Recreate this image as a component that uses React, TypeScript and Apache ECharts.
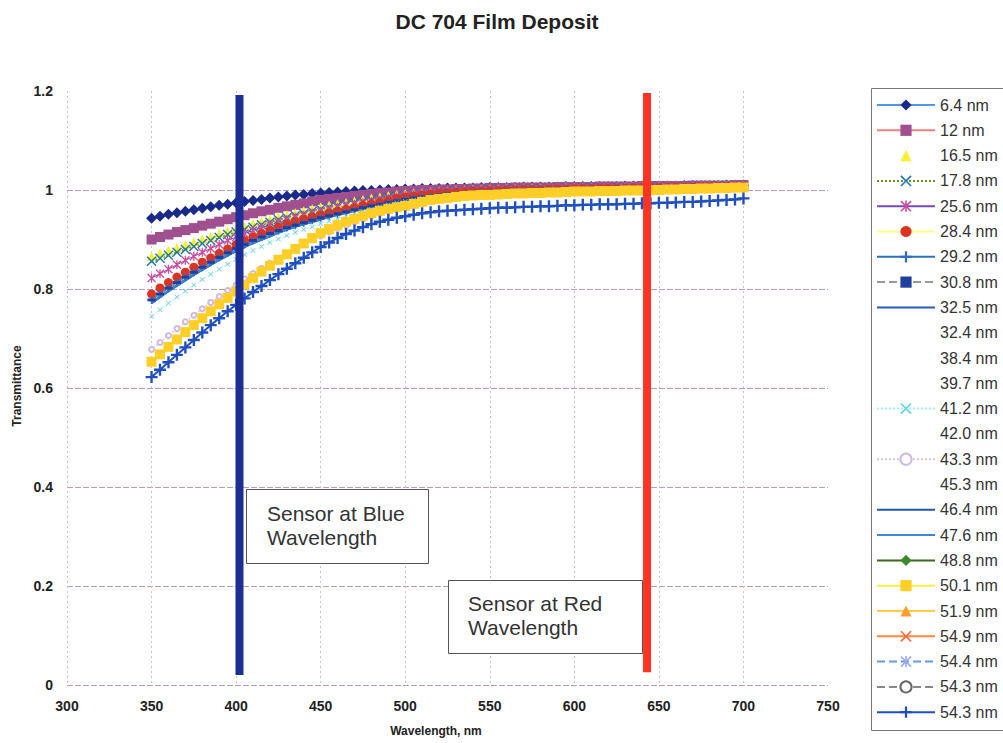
import React, { useEffect, useRef } from "react";
import * as echarts from "echarts";

// Wavelength samples (nm)
const wavelengths = [
  350, 355, 360, 365, 370, 375, 380, 385, 390, 395,
  400, 405, 410, 415, 420, 425, 430, 435, 440, 445,
  450, 455, 460, 465, 470, 475, 480, 485, 490, 495,
  500, 505, 510, 515, 520, 525, 530, 535, 540, 545,
  550, 555, 560, 565, 570, 575, 580, 585, 590, 595,
  600, 605, 610, 615, 620, 625, 630, 635, 640, 645,
  650, 655, 660, 665, 670, 675, 680, 685, 690, 695,
  700,
];

const t6_4 = [
  0.943, 0.947, 0.951, 0.954, 0.957, 0.960, 0.963, 0.966, 0.969, 0.971,
  0.974, 0.977, 0.979, 0.981, 0.984, 0.986, 0.988, 0.990, 0.991, 0.993,
  0.994, 0.995, 0.996, 0.997, 0.998, 0.999, 0.999, 1.000, 1.001, 1.001,
  1.002, 1.002, 1.003, 1.003, 1.003, 1.004, 1.004, 1.004, 1.004, 1.005,
  1.005, 1.005, 1.005, 1.005, 1.006, 1.006, 1.006, 1.006, 1.006, 1.007,
  1.007, 1.007, 1.007, 1.007, 1.007, 1.007, 1.008, 1.008, 1.008, 1.008,
  1.008, 1.008, 1.008, 1.009, 1.009, 1.009, 1.009, 1.009, 1.010, 1.010,
  1.010,
];
const t12 = [
  0.900, 0.905, 0.910, 0.915, 0.919, 0.923, 0.928, 0.932, 0.936, 0.941,
  0.945, 0.949, 0.953, 0.957, 0.960, 0.964, 0.967, 0.970, 0.973, 0.977,
  0.980, 0.982, 0.984, 0.986, 0.988, 0.990, 0.992, 0.994, 0.995, 0.997,
  0.998, 0.999, 1.000, 1.000, 1.001, 1.001, 1.002, 1.002, 1.003, 1.003,
  1.004, 1.004, 1.004, 1.005, 1.005, 1.005, 1.005, 1.005, 1.006, 1.006,
  1.006, 1.006, 1.006, 1.007, 1.007, 1.007, 1.007, 1.007, 1.008, 1.008,
  1.008, 1.008, 1.008, 1.008, 1.009, 1.009, 1.009, 1.009, 1.009, 1.010,
  1.010,
];
const t16_5 = [
  0.866, 0.872, 0.878, 0.884, 0.890, 0.895, 0.901, 0.906, 0.912, 0.917,
  0.922, 0.927, 0.932, 0.937, 0.941, 0.946, 0.950, 0.954, 0.958, 0.962,
  0.966, 0.969, 0.972, 0.975, 0.978, 0.981, 0.984, 0.986, 0.989, 0.991,
  0.993, 0.994, 0.995, 0.996, 0.997, 0.998, 0.999, 1.000, 1.001, 1.001,
  1.002, 1.002, 1.003, 1.003, 1.003, 1.004, 1.004, 1.004, 1.004, 1.005,
  1.005, 1.005, 1.005, 1.006, 1.006, 1.006, 1.006, 1.007, 1.007, 1.007,
  1.007, 1.008, 1.008, 1.008, 1.008, 1.009, 1.009, 1.009, 1.009, 1.010,
  1.010,
];
const t17_8 = [
  0.856, 0.862, 0.868, 0.874, 0.880, 0.886, 0.892, 0.898, 0.904, 0.910,
  0.915, 0.920, 0.925, 0.930, 0.935, 0.940, 0.944, 0.948, 0.952, 0.957,
  0.961, 0.965, 0.968, 0.971, 0.974, 0.977, 0.980, 0.983, 0.986, 0.988,
  0.990, 0.992, 0.994, 0.995, 0.996, 0.997, 0.998, 0.999, 1.000, 1.000,
  1.001, 1.001, 1.002, 1.002, 1.003, 1.003, 1.003, 1.004, 1.004, 1.004,
  1.004, 1.005, 1.005, 1.005, 1.005, 1.006, 1.006, 1.006, 1.006, 1.007,
  1.007, 1.007, 1.007, 1.008, 1.008, 1.008, 1.008, 1.009, 1.009, 1.009,
  1.009,
];
const t25_6 = [
  0.822, 0.831, 0.840, 0.849, 0.858, 0.866, 0.874, 0.882, 0.890, 0.898,
  0.905, 0.912, 0.918, 0.924, 0.930, 0.935, 0.940, 0.945, 0.949, 0.953,
  0.957, 0.961, 0.965, 0.968, 0.971, 0.974, 0.977, 0.980, 0.983, 0.986,
  0.989, 0.991, 0.993, 0.994, 0.995, 0.996, 0.997, 0.998, 0.999, 0.999,
  1.000, 1.000, 1.001, 1.001, 1.002, 1.002, 1.002, 1.003, 1.003, 1.003,
  1.004, 1.004, 1.004, 1.005, 1.005, 1.005, 1.005, 1.006, 1.006, 1.006,
  1.006, 1.007, 1.007, 1.007, 1.007, 1.008, 1.008, 1.008, 1.008, 1.009,
  1.009,
];
const t28_4 = [
  0.790, 0.802, 0.813, 0.824, 0.834, 0.844, 0.854, 0.863, 0.872, 0.881,
  0.890, 0.898, 0.905, 0.912, 0.919, 0.925, 0.931, 0.936, 0.941, 0.945,
  0.949, 0.953, 0.957, 0.961, 0.965, 0.969, 0.972, 0.976, 0.979, 0.983,
  0.986, 0.988, 0.990, 0.992, 0.994, 0.995, 0.996, 0.997, 0.998, 0.998,
  0.999, 0.999, 1.000, 1.000, 1.001, 1.001, 1.001, 1.002, 1.002, 1.002,
  1.003, 1.003, 1.003, 1.004, 1.004, 1.004, 1.004, 1.005, 1.005, 1.005,
  1.005, 1.006, 1.006, 1.006, 1.006, 1.007, 1.007, 1.007, 1.007, 1.008,
  1.008,
];
const t29_2 = [
  0.778, 0.790, 0.802, 0.813, 0.824, 0.834, 0.844, 0.854, 0.864, 0.873,
  0.882, 0.890, 0.898, 0.905, 0.912, 0.918, 0.924, 0.929, 0.934, 0.939,
  0.944, 0.948, 0.952, 0.956, 0.960, 0.964, 0.968, 0.971, 0.975, 0.978,
  0.981, 0.984, 0.986, 0.988, 0.990, 0.992, 0.993, 0.994, 0.995, 0.996,
  0.997, 0.997, 0.998, 0.998, 0.999, 0.999, 1.000, 1.000, 1.000, 1.001,
  1.001, 1.001, 1.002, 1.002, 1.002, 1.003, 1.003, 1.003, 1.003, 1.004,
  1.004, 1.004, 1.004, 1.005, 1.005, 1.005, 1.005, 1.006, 1.006, 1.006,
  1.006,
];
const t32_5 = [
  0.772, 0.784, 0.796, 0.807, 0.818, 0.829, 0.839, 0.849, 0.859, 0.868,
  0.877, 0.885, 0.893, 0.900, 0.907, 0.914, 0.920, 0.926, 0.931, 0.936,
  0.941, 0.946, 0.950, 0.954, 0.958, 0.962, 0.966, 0.970, 0.973, 0.977,
  0.980, 0.983, 0.985, 0.987, 0.989, 0.991, 0.992, 0.993, 0.994, 0.995,
  0.996, 0.997, 0.997, 0.998, 0.998, 0.999, 0.999, 1.000, 1.000, 1.000,
  1.001, 1.001, 1.001, 1.002, 1.002, 1.002, 1.003, 1.003, 1.003, 1.003,
  1.004, 1.004, 1.004, 1.004, 1.005, 1.005, 1.005, 1.005, 1.006, 1.006,
  1.006,
];
const t41_2 = [
  0.745, 0.758, 0.771, 0.784, 0.796, 0.808, 0.819, 0.830, 0.840, 0.850,
  0.860, 0.869, 0.878, 0.886, 0.894, 0.901, 0.908, 0.914, 0.920, 0.926,
  0.932, 0.937, 0.942, 0.947, 0.952, 0.957, 0.961, 0.966, 0.970, 0.974,
  0.977, 0.980, 0.983, 0.985, 0.987, 0.989, 0.990, 0.991, 0.992, 0.993,
  0.994, 0.995, 0.995, 0.996, 0.996, 0.997, 0.997, 0.998, 0.998, 0.998,
  0.999, 0.999, 0.999, 1.000, 1.000, 1.000, 1.001, 1.001, 1.001, 1.001,
  1.002, 1.002, 1.002, 1.002, 1.003, 1.003, 1.003, 1.003, 1.004, 1.004,
  1.004,
];
const t43_3 = [
  0.678, 0.692, 0.706, 0.720, 0.734, 0.747, 0.760, 0.773, 0.785, 0.797,
  0.808, 0.820, 0.831, 0.842, 0.852, 0.862, 0.872, 0.881, 0.890, 0.899,
  0.907, 0.915, 0.922, 0.929, 0.936, 0.942, 0.948, 0.953, 0.958, 0.963,
  0.967, 0.971, 0.975, 0.978, 0.981, 0.983, 0.985, 0.987, 0.989, 0.990,
  0.991, 0.992, 0.993, 0.994, 0.995, 0.996, 0.996, 0.997, 0.997, 0.998,
  0.998, 0.999, 0.999, 0.999, 1.000, 1.000, 1.000, 1.001, 1.001, 1.001,
  1.001, 1.002, 1.002, 1.002, 1.002, 1.003, 1.003, 1.003, 1.003, 1.004,
  1.004,
];
const t50_1 = [
  0.653, 0.668, 0.683, 0.698, 0.713, 0.727, 0.741, 0.755, 0.769, 0.782,
  0.795, 0.809, 0.822, 0.835, 0.847, 0.859, 0.870, 0.881, 0.892, 0.903,
  0.913, 0.921, 0.929, 0.936, 0.942, 0.948, 0.953, 0.958, 0.962, 0.965,
  0.968, 0.972, 0.976, 0.980, 0.982, 0.984, 0.986, 0.988, 0.989, 0.990,
  0.990, 0.991, 0.992, 0.993, 0.993, 0.994, 0.994, 0.995, 0.995, 0.996,
  0.997, 0.997, 0.997, 0.998, 0.998, 0.998, 0.999, 0.999, 0.999, 1.000,
  1.000, 1.001, 1.001, 1.002, 1.002, 1.003, 1.003, 1.004, 1.004, 1.005,
  1.005,
];
const t54_3b = [
  0.622, 0.637, 0.652, 0.667, 0.682, 0.697, 0.712, 0.727, 0.741, 0.755,
  0.768, 0.781, 0.794, 0.806, 0.818, 0.830, 0.841, 0.852, 0.863, 0.874,
  0.885, 0.894, 0.903, 0.911, 0.918, 0.925, 0.931, 0.936, 0.940, 0.944,
  0.947, 0.950, 0.953, 0.955, 0.957, 0.958, 0.959, 0.960, 0.961, 0.962,
  0.963, 0.964, 0.964, 0.965, 0.966, 0.966, 0.967, 0.967, 0.968, 0.969,
  0.969, 0.970, 0.970, 0.971, 0.971, 0.971, 0.972, 0.972, 0.973, 0.973,
  0.974, 0.974, 0.975, 0.976, 0.976, 0.977, 0.978, 0.979, 0.980, 0.981,
  0.983,
];

// Vertical sensor markers: [wavelength, transmittance] end points
const blueSensor = [[402, 0.02], [402, 1.192]];
const redSensor = [[643, 0.026], [643, 1.196]];

const seriesNames = [
  "6.4 nm", "12 nm", "16.5 nm", "17.8 nm", "25.6 nm", "28.4 nm", "29.2 nm",
  "30.8 nm", "32.5 nm", "32.4 nm", "38.4 nm", "39.7 nm", "41.2 nm", "42.0 nm",
  "43.3 nm", "45.3 nm", "46.4 nm", "47.6 nm", "48.8 nm", "50.1 nm", "51.9 nm",
  "54.9 nm", "54.4 nm", "54.3 nm", "54.3 nm ",
];

const X_SYM = "path://M1,0L5,4L9,0L10,1L6,5L10,9L9,10L5,6L1,10L0,9L4,5L0,1Z";
const PLUS_SYM = "path://M4,0H6V4H10V6H6V10H4V6H0V4H4Z";
const STAR_SYM =
  "path://M1,0L5,4L9,0L10,1L6,5L10,9L9,10L5,6L1,10L0,9L4,5L0,1Z M4.3,0H5.7V10H4.3Z";

const FONT = "'Liberation Sans', Arial, sans-serif";

function pts(arr: number[]) {
  return wavelengths.map((w, i) => [w, arr[i]]);
}

type Spec = {
  name: string;
  data: number[] | null;
  line?: string;
  lineWidth?: number;
  lineType?: any;
  symbol?: string;
  symbolSize?: any;
  color?: string;
  z?: number;
};

const specs: Spec[] = [
  { name: seriesNames[0], data: t6_4, line: "#4a9be0", symbol: "diamond", symbolSize: 11, color: "#1a2a8a" },
  { name: seriesNames[1], data: t12, line: "#f08080", symbol: "rect", symbolSize: 10, color: "#a0508e" },
  { name: seriesNames[2], data: t16_5, line: "none", symbol: "triangle", symbolSize: 9, color: "#f6f030" },
  { name: seriesNames[3], data: t17_8, line: "#6a8a30", lineType: "dotted", lineWidth: 2, symbol: X_SYM, symbolSize: 10, color: "#1f78a8" },
  { name: seriesNames[4], data: t25_6, line: "#7a48b8", symbol: STAR_SYM, symbolSize: 9, color: "#d04a9a" },
  { name: seriesNames[5], data: t28_4, line: "#ffff88", symbol: "circle", symbolSize: 9, color: "#dd3322" },
  { name: seriesNames[6], data: t29_2, line: "#2f6fc0", lineWidth: 1.5, symbol: PLUS_SYM, symbolSize: 8, color: "#2f6fc0" },
  { name: seriesNames[7], data: t29_2, line: "#999999", lineType: "dashed", symbol: "rect", symbolSize: [8, 3], color: "#2040a0" },
  { name: seriesNames[8], data: t32_5, line: "#2a5ab8", lineWidth: 2.5, symbol: "none", color: "#2a5ab8" },
  { name: seriesNames[9], data: null },
  { name: seriesNames[10], data: null },
  { name: seriesNames[11], data: null },
  { name: seriesNames[12], data: t41_2, line: "#a8ecf4", lineType: "dotted", symbol: X_SYM, symbolSize: 5, color: "#60d0e0" },
  { name: seriesNames[13], data: null },
  { name: seriesNames[14], data: t43_3, line: "#dcc0ec", lineType: "dotted", lineWidth: 1.5, symbol: "emptyCircle", symbolSize: 5, color: "#d0b8e0" },
  { name: seriesNames[15], data: null },
  { name: seriesNames[16], data: t32_5, line: "#2255b0", lineWidth: 2, symbol: "none", color: "#2255b0" },
  { name: seriesNames[17], data: t32_5, line: "#3a88d0", lineWidth: 2, symbol: "none", color: "#3a88d0" },
  { name: seriesNames[18], data: t50_1, line: "#3a6a1a", symbol: "diamond", symbolSize: 6, color: "#3a8a2a", z: 1 },
  { name: seriesNames[19], data: t50_1, line: "#ffee44", symbol: "rect", symbolSize: 10, color: "#ffcf28" },
  { name: seriesNames[20], data: t50_1, line: "#ffcc44", symbol: "triangle", symbolSize: 8, color: "#ff9f30", z: 1 },
  { name: seriesNames[21], data: t50_1, line: "#ff8844", symbol: X_SYM, symbolSize: 6, color: "#ff6633", z: 1 },
  { name: seriesNames[22], data: t50_1, line: "#6699dd", lineType: "dashed", symbol: STAR_SYM, symbolSize: 6, color: "#99aaee", z: 1 },
  { name: seriesNames[23], data: t50_1, line: "#888888", lineType: "dashed", symbol: "emptyCircle", symbolSize: 6, color: "#666666", z: 1 },
  { name: seriesNames[24], data: t54_3b, line: "#2050c0", lineWidth: 2, symbol: PLUS_SYM, symbolSize: 12, color: "#2050c0" },
];

function buildSeries() {
  const out: any[] = specs.map((s) => {
    if (!s.data) {
      return {
        name: s.name,
        type: "line",
        data: [],
        symbol: "none",
        lineStyle: { width: 0, opacity: 0, color: "transparent" },
        itemStyle: { opacity: 0, color: "transparent" },
      };
    }
    const noLine = s.line === "none";
    return {
      name: s.name,
      type: "line",
      z: s.z ?? 2,
      data: pts(s.data),
      symbol: s.symbol,
      symbolSize: s.symbolSize,
      showSymbol: s.symbol !== "none",
      showAllSymbol: true,
      itemStyle: { color: s.color, borderWidth: 0 },
      lineStyle: noLine
        ? { width: 0, opacity: 0, color: "transparent" }
        : { color: s.line, width: s.lineWidth ?? 1, type: s.lineType ?? "solid" },
      emphasis: { disabled: true },
    };
  });
  out.push({
    name: "blueSensor",
    type: "line",
    z: 10,
    data: blueSensor,
    symbol: "none",
    lineStyle: { color: "#1c2f96", width: 8 },
    emphasis: { disabled: true },
  });
  out.push({
    name: "redSensor",
    type: "line",
    z: 10,
    data: redSensor,
    symbol: "none",
    lineStyle: { color: "#ff3322", width: 8 },
    emphasis: { disabled: true },
  });
  return out;
}

const legendData = specs.map((s) =>
  s.data && s.symbol === "none"
    ? { name: s.name, itemStyle: { opacity: 0 } }
    : { name: s.name }
);

export default function App() {
  const ref = useRef<HTMLDivElement>(null);
  useEffect(() => {
    if (!ref.current) return;
    const chart = echarts.init(ref.current, null, { renderer: "svg" });
    const option: any = {
      animation: false,
      backgroundColor: "#ffffff",
      textStyle: { fontFamily: FONT },
      grid: { left: 67, right: 175, top: 91, bottom: 58, containLabel: false },
      xAxis: {
        type: "value",
        min: 300,
        max: 750,
        interval: 50,
        axisLine: { show: false },
        axisTick: { show: false },
        axisLabel: { fontFamily: FONT, fontSize: 14, fontWeight: "bold", color: "#222", margin: 14 },
        splitLine: {
          show: true,
          showMaxLine: false,
          lineStyle: { color: "#c4c0dc", type: [2, 3], width: 1 },
        },
      },
      yAxis: {
        type: "value",
        min: 0,
        max: 1.2,
        interval: 0.2,
        axisLine: { show: false },
        axisTick: { show: false },
        axisLabel: { fontFamily: FONT, fontSize: 14, fontWeight: "bold", color: "#222", margin: 14 },
        splitLine: {
          show: true,
          showMaxLine: false,
          lineStyle: { color: "#b49ccc", type: [6, 2], width: 1 },
        },
      },
      legend: {
        show: true,
        orient: "vertical",
        left: 871,
        top: 88,
        padding: [9, 6, 8, 5],
        itemWidth: 58,
        itemHeight: 14,
        itemGap: 9.3,
        selectedMode: false,
        data: legendData,
        textStyle: { fontFamily: FONT, fontSize: 16, color: "#333" },
      },
      graphic: [
        {
          type: "rect",
          shape: { x: 871.5, y: 88.5, width: 140, height: 642 },
          style: { fill: "none", stroke: "#777", lineWidth: 1 },
          silent: true,
          z: 0,
        },
        {
          type: "text",
          x: 497,
          y: 21,
          style: {
            text: "DC 704 Film Deposit",
            font: `bold 21px ${FONT}`,
            fill: "#222",
            textAlign: "center",
            textVerticalAlign: "middle",
          },
        },
        {
          type: "text",
          x: 436,
          y: 731,
          style: {
            text: "Wavelength, nm",
            font: `bold 12px ${FONT}`,
            fill: "#222",
            textAlign: "center",
            textVerticalAlign: "middle",
          },
        },
        {
          type: "text",
          x: 17,
          y: 386,
          rotation: Math.PI / 2,
          style: {
            text: "Transmittance",
            font: `bold 12px ${FONT}`,
            fill: "#222",
            textAlign: "center",
            textVerticalAlign: "middle",
          },
        },
        {
          type: "rect",
          shape: { x: 246.5, y: 489.5, width: 182, height: 74 },
          style: { fill: "#fff", stroke: "#555", lineWidth: 1 },
          z: 100,
        },
        {
          type: "text",
          x: 267,
          y: 501,
          z: 101,
          style: {
            text: "Sensor at Blue\nWavelength",
            font: `21px ${FONT}`,
            lineHeight: 24,
            fill: "#333",
            textVerticalAlign: "top",
          },
        },
        {
          type: "rect",
          shape: { x: 448.5, y: 580.5, width: 194, height: 73 },
          style: { fill: "#fff", stroke: "#555", lineWidth: 1 },
          z: 100,
        },
        {
          type: "text",
          x: 468,
          y: 591,
          z: 101,
          style: {
            text: "Sensor at Red\nWavelength",
            font: `21px ${FONT}`,
            lineHeight: 24,
            fill: "#333",
            textVerticalAlign: "top",
          },
        },
      ],
      series: buildSeries(),
    };
    chart.setOption(option);
    return () => chart.dispose();
  }, []);
  return (
    <div
      ref={ref}
      style={{ position: "absolute", left: 0, top: 0, width: 1003, height: 743, background: "#fff" }}
    />
  );
}
